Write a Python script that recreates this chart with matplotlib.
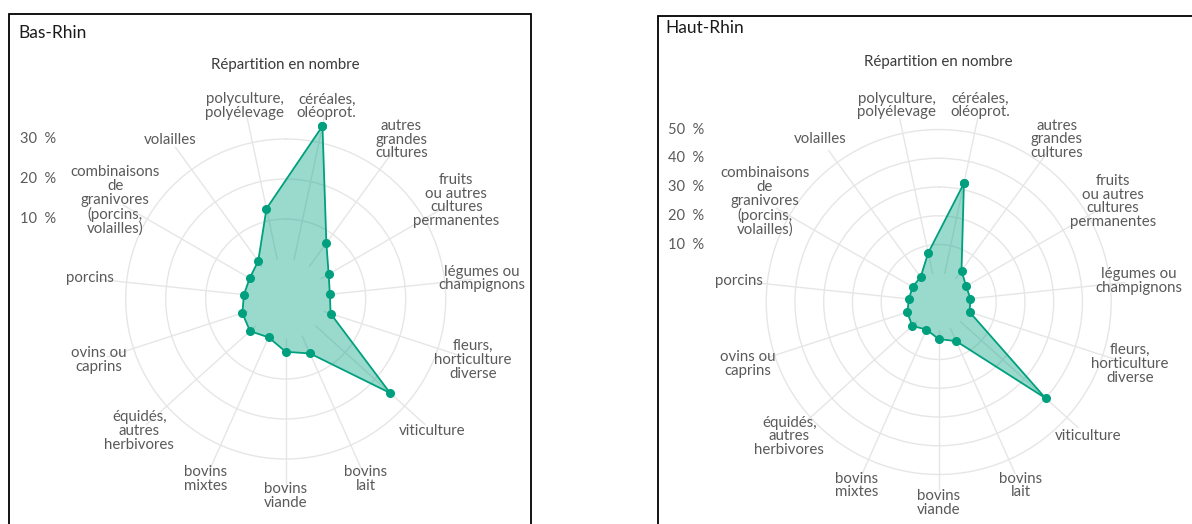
import numpy as np
import matplotlib
matplotlib.use('Agg')
import matplotlib.pyplot as plt
from matplotlib.patches import Rectangle

categories = ["céréales,\noléoprot.", "autres\ngrandes\ncultures",
              "fruits\nou autres\ncultures\npermanentes", "légumes ou\nchampignons",
              "fleurs,\nhorticulture\ndiverse", "viticulture", "bovins\nlait",
              "bovins\nviande", "bovins\nmixtes", "équidés,\nautres\nherbivores",
              "ovins ou\ncaprins", "porcins",
              "combinaisons\nde\ngranivores\n(porcins,\nvolailles)", "volailles",
              "polyculture,\npolyélevage"]

# part des exploitations en %
bas_rhin = [34.2, 7.3, 2.4, 1.1, 1.8, 25.1, 4.9, 3.2, 0.5, 2.0, 1.4, 0.5, 0.4, 1.7, 13.1]
haut_rhin = [32.2, 3.5, 1.0, 1.1, 1.3, 40.0, 4.9, 2.9, 0.5, 2.4, 1.5, 0.4, 0.5, 0.7, 7.5]

bas_ticks = [10, 20, 30]
haut_ticks = [10, 20, 30, 40, 50]

plt.rcParams['font.family'] = ['Lato', 'DejaVu Sans']

W, H = 1192, 524
fig = plt.figure(figsize=(W / 100, H / 100), dpi=100)

line_col = '#00a07e'
fill_col = '#00a383'
txt_col = '#5a5a5a'


def panel(cx, cy, vals, ticks, vmax, title, title_xy, frame, label_r, tick_x, sub_y):
    R = 188
    ax = fig.add_axes([(cx - R) / W, (H - cy - R) / H, 2 * R / W, 2 * R / H],
                      projection='polar')
    ax.set_theta_zero_location('N')
    ax.set_theta_direction(-1)
    ax.set_rorigin(-10)
    ax.set_ylim(0, vmax)
    theta = np.radians(12 + 24 * np.arange(len(categories)))
    ax.set_xticks(theta)
    ax.set_xticklabels([])
    ax.set_yticks(ticks)
    ax.set_yticklabels([])
    ax.tick_params(length=0)
    ax.grid(color='#e6e6e6', lw=1.0)
    # polar axes turn the inner spine back on when drawing, so just make it invisible
    for s in ax.spines.values():
        s.set_color('none')
        s.set_linewidth(0)
    ax.patch.set_visible(False)

    tc = np.append(theta, theta[0])
    vc = np.append(vals, vals[0])
    ax.fill(tc, vc, color=fill_col, alpha=0.4, lw=0, zorder=2, clip_on=False)
    ax.plot(tc, vc, color=line_col, lw=1.3, marker='o', ms=5.5, zorder=3,
            clip_on=False)

    for t, lab in zip(theta, categories):
        ax.text(t, label_r, lab, ha='center', va='center', fontsize=10.8,
                color=txt_col, linespacing=0.98)

    # etiquettes des cercles, a gauche
    for v in ticks:
        y = ax.transData.transform((0, v))[1]
        fig.text(tick_x / W, y / H, f"{v}  %", ha='right', va='center',
                 fontsize=10.5, color=txt_col)

    fig.text(cx / W, 1 - sub_y / H, "Répartition en nombre", ha='center',
             va='center', fontsize=10.8, color='#3a3a3a')
    fig.text(title_xy[0] / W, 1 - title_xy[1] / H, title, ha='left', va='center',
             fontsize=12.5, color='#1a1a1a')

    x0, top, x1 = frame
    fig.add_artist(Rectangle((x0 / W, -0.05), (x1 - x0) / W, 1 - top / H + 0.05,
                             transform=fig.transFigure, fill=False,
                             edgecolor='black', lw=1.3))


panel(285.7, 299, bas_rhin, bas_ticks, 37, "Bas-Rhin", (18, 33),
      (9, 14, 531), 197 / 4 - 10, 56, 65)
panel(938.7, 302, haut_rhin, haut_ticks, 55.4, "Haut-Rhin", (665, 28),
      (658, 16, 1210), 201 / 2.875 - 10, 704, 62)

fig.savefig('out.png', dpi=100)
